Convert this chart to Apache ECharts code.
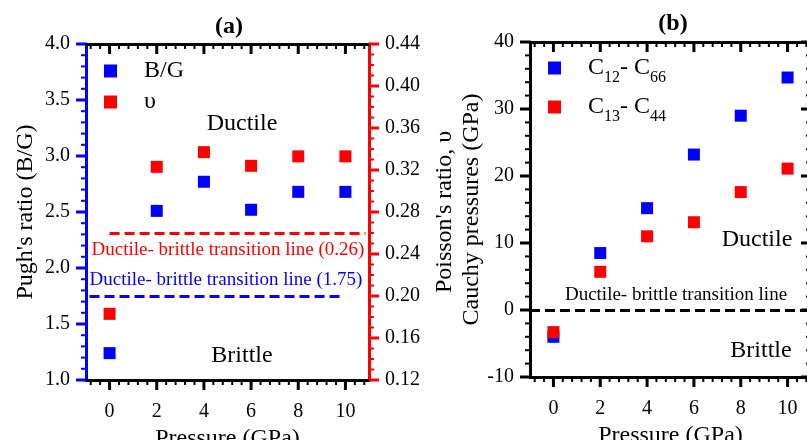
<!DOCTYPE html>
<html>
<head>
<meta charset="utf-8">
<script src="https://cdn.jsdelivr.net/npm/echarts@6/dist/echarts.min.js"></script>
<style>
html,body{margin:0;padding:0;background:#fff;}
#chart{width:807px;height:440px;}
</style>
</head>
<body>
<div id="chart"></div>
<script>
// data
var pressure=[0,2,4,6,8,10];
var pughRatio=[1.24,2.51,2.77,2.52,2.68,2.68];
var poissonRatio=[0.183,0.323,0.337,0.324,0.333,0.333];
var cauchyC12C66=[-4.0,8.5,15.2,23.2,29.0,34.7];
var cauchyC13C44=[-3.3,5.7,11.0,13.1,17.6,21.1];
var pressureTicks=[0,2,4,6,8,10];
var pughLimit=1.75, pughLimitSpan=[-0.85,9.9];
var poissonLimit=0.26, poissonLimitSpan=[0,10.85];
var cauchyLimit=0;

var FONT='Liberation Serif';
var BLUE='#0000ff', RED='#ff0000', BLACK='#000';

var range=function(a,b,s){
	var r=[];
	for (var v=a;v<=b+s/2;v+=s) r.push(Math.round(v*1000)/1000);
	return r;
};
var zip=function(xs,ys){
	return xs.map(function(x,i){return [x,ys[i]];});
};

var mkX=function(grid,pos,showLabel){
	return {
		type:'value',
		gridIndex:grid,
		position:pos,
		min:-1,
		max:11,
		splitLine:{show:false},
		axisLine:{show:true,onZero:false,lineStyle:{color:BLACK,width:3}},
		axisTick:{show:false},
		axisLabel:{show:showLabel,customValues:pressureTicks,color:BLACK,
			fontSize:20,fontFamily:FONT,margin:22},
		name:showLabel?'Pressure (GPa)':'',
		nameLocation:'middle',
		nameGap:34,
		nameTextStyle:{color:BLACK,fontSize:24,fontFamily:FONT}
	};
};

var mkY=function(grid,pos,color,min,max,step,fmt,name,gap){
	return {
		type:'value',
		gridIndex:grid,
		position:pos,
		min:min,
		max:max,
		interval:step,
		splitLine:{show:false},
		axisLine:{show:true,onZero:false,lineStyle:{color:color,width:3}},
		axisTick:{show:false},
		axisLabel:{show:!!fmt,formatter:fmt,color:BLACK,fontSize:20,fontFamily:FONT,margin:16},
		name:name,
		nameLocation:'middle',
		nameRotate:90,
		nameGap:gap,
		nameTextStyle:{color:BLACK,fontSize:24,fontFamily:FONT}
	};
};

// tick marks drawn as thin rect symbols sitting on the axis edge
var tickSeries=function(xi,yi,pts,size,offset,color){
	return {
		type:'scatter',xAxisIndex:xi,yAxisIndex:yi,
		silent:true,clip:false,z:5,
		symbol:'rect',symbolSize:size,symbolOffset:offset,
		itemStyle:{color:color,opacity:1},
		emphasis:{disabled:true},
		tooltip:{show:false},
		data:pts
	};
};
var xTicks=function(xi,yi,yEdge){
	var minor=range(-0.8,10.8,0.4).map(function(v){return [v,yEdge];});
	var major=pressureTicks.map(function(v){return [v,yEdge];});
	return [
		tickSeries(xi,yi,minor,[2,5],[0,2.5],BLACK),
		tickSeries(xi,yi,major,[3,10],[0,5],BLACK)
	];
};
var yTicks=function(xi,yi,xEdge,dir,color,major,minor){
	return [
		tickSeries(xi,yi,minor.map(function(v){return [xEdge,v];}),[5,2],[dir*2.5,0],color),
		tickSeries(xi,yi,major.map(function(v){return [xEdge,v];}),[10,3],[dir*5,0],color)
	];
};

var txt=function(s,x,y,size,color){
	return {type:'text',x:x,y:y,z:100,silent:true,style:{text:s,fill:color||BLACK,fontSize:size,
		fontFamily:FONT,align:'center',verticalAlign:'middle'}};
};

var dashed=function(color){
	return {color:color,width:3,type:[10,5]};
};

var dataSeries=[
	{
		name:'B/G',type:'scatter',xAxisIndex:0,yAxisIndex:0,
		symbol:'rect',symbolSize:12,itemStyle:{color:BLUE,opacity:1},
		data:zip(pressure,pughRatio),
		markLine:{silent:true,symbol:'none',label:{show:false},lineStyle:dashed(BLUE),
			data:[[{coord:[pughLimitSpan[0],pughLimit]},{coord:[pughLimitSpan[1],pughLimit]}]]}
	},
	{
		name:'υ',type:'scatter',xAxisIndex:0,yAxisIndex:1,
		symbol:'rect',symbolSize:12,itemStyle:{color:RED,opacity:1},
		data:zip(pressure,poissonRatio),
		markLine:{silent:true,symbol:'none',label:{show:false},lineStyle:dashed(RED),
			data:[[{coord:[poissonLimitSpan[0],poissonLimit]},{coord:[poissonLimitSpan[1],poissonLimit]}]]}
	},
	{
		name:'C12- C66',type:'scatter',xAxisIndex:2,yAxisIndex:2,
		symbol:'rect',symbolSize:12,itemStyle:{color:BLUE,opacity:1},
		data:zip(pressure,cauchyC12C66)
	},
	{
		name:'C13- C44',type:'scatter',xAxisIndex:2,yAxisIndex:2,
		symbol:'rect',symbolSize:12,itemStyle:{color:RED,opacity:1},
		data:zip(pressure,cauchyC13C44),
		markLine:{silent:true,symbol:'none',label:{show:false},lineStyle:dashed(BLACK),
			data:[{yAxis:cauchyLimit}]}
	}
];

var tickMarks=[].concat(
	// panel (a)
	xTicks(0,0,1),
	xTicks(1,0,4).map(function(s){s.xAxisIndex=0;return s;}),
	yTicks(0,0,-1,-1,BLUE,range(1,4,0.5),range(1,4,0.1)),
	yTicks(0,1,11,1,RED,range(0.12,0.44,0.04),range(0.12,0.44,0.01)),
	// panel (b)
	xTicks(2,2,-10),
	xTicks(2,2,40),
	yTicks(2,2,-1,-1,BLACK,range(-10,40,10),range(-10,40,2)),
	yTicks(2,2,11,-1,BLACK,range(-10,40,10),range(-10,40,2))
);
// top edge ticks point down into the plot, which the +offset already does

var chart=echarts.init(document.getElementById('chart'));
var option={
	backgroundColor:'#fff',
	animation:false,
	grid:[
		{left:86,top:44,width:283,height:336,outerBoundsMode:'none'},
		{left:530,top:42,width:281,height:335,outerBoundsMode:'none'}
	],
	legend:[
		{
			data:['B/G','υ'],
			orient:'vertical',
			left:104,top:59,padding:0,
			itemWidth:13,itemHeight:13,itemGap:7,
			icon:'rect',
			selectedMode:false,
			textStyle:{color:BLACK,fontSize:24,fontFamily:FONT,lineHeight:24,padding:[0,0,0,22]}
		},
		{
			data:['C12- C66','C13- C44'],
			orient:'vertical',
			left:548,top:56,padding:0,
			itemWidth:13,itemHeight:13,itemGap:9,
			icon:'rect',
			selectedMode:false,
			formatter:function(n){
				var p=n.match(/C(\d+)- C(\d+)/);
				return '{n|C}{s|'+p[1]+'}{n|- C}{s|'+p[2]+'}';
			},
			textStyle:{color:BLACK,fontSize:24,fontFamily:FONT,padding:[0,0,0,22],
				rich:{
					n:{fontSize:24,fontFamily:FONT,color:BLACK,lineHeight:36,verticalAlign:'middle'},
					s:{fontSize:16,fontFamily:FONT,color:BLACK,lineHeight:14,verticalAlign:'bottom'}
				}
			}
		}
	],
	xAxis:[
		mkX(0,'bottom',true),
		mkX(0,'top',false),
		mkX(1,'bottom',true),
		mkX(1,'top',false)
	],
	yAxis:[
		mkY(0,'left',BLUE,1,4,0.5,function(v){return v.toFixed(1);},"Pugh's ratio (B/G)",48),
		mkY(0,'right',RED,0.12,0.44,0.04,function(v){return v.toFixed(2);},"Poisson's ratio, υ",64),
		mkY(1,'left',BLACK,-10,40,10,function(v){return String(v);},'Cauchy pressures (GPa)',28),
		mkY(1,'right',BLACK,-10,40,10,null,'',0)
	],
	title:[
		{text:'(a)',left:229,top:15,textAlign:'center',padding:0,
			textStyle:{fontSize:24,fontWeight:'bold',fontFamily:FONT,color:BLACK}},
		{text:'(b)',left:673,top:12,textAlign:'center',padding:0,
			textStyle:{fontSize:24,fontWeight:'bold',fontFamily:FONT,color:BLACK}}
	],
	series:tickMarks.concat(dataSeries),
	graphic:[
		txt('Ductile',242,124,24),
		txt('Brittle',242,356,24),
		txt('Ductile- brittle transition line (0.26)',228,250,19,RED),
		txt('Ductile- brittle transition line (1.75)',226,280,19,BLUE),
		txt('Ductile- brittle transition line',676,295,19),
		txt('Ductile',757,240,24),
		txt('Brittle',761,351,24)
	]
};
chart.setOption(option);
</script>
</body>
</html>
